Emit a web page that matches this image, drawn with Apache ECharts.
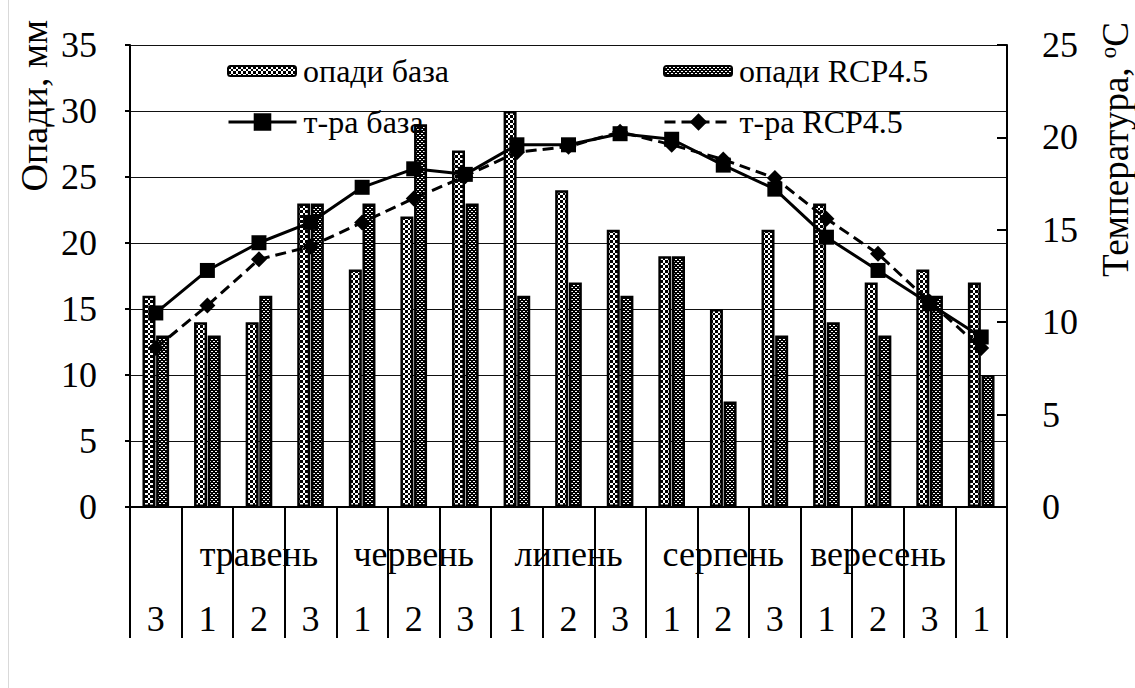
<!DOCTYPE html>
<html>
<head>
<meta charset="utf-8">
<script src="https://cdn.jsdelivr.net/npm/echarts@6/dist/echarts.min.js"></script>
<style>html,body{margin:0;padding:0;background:#fff;}#c{width:1135px;height:688px;}</style>
</head>
<body>
<div id="c"></div>
<script>
// ---- data ----
var decades = ['3','1','2','3','1','2','3','1','2','3','1','2','3','1','2','3','1'];
var monthLabels = ['', '', 'травень', '', '', 'червень', '', '', 'липень', '', '', 'серпень', '', '', 'вересень', '', ''];
var precipBase = [16,14,14,23,18,22,27,30,24,21,19,15,21,23,17,18,17];
var precipRcp  = [13,13,16,23,23,29,23,16,17,16,19,8,13,14,13,16,10];
var tempBase = [10.5,12.8,14.3,15.4,17.3,18.3,18.0,19.6,19.6,20.2,19.9,18.5,17.2,14.6,12.8,11.0,9.2];
var tempRcp  = [8.6,10.9,13.4,14.1,15.4,16.7,17.9,19.2,19.5,20.3,19.6,18.8,17.8,15.6,13.7,11.1,8.6];
var precipTicks = {min: 0, max: 35, interval: 5};
var tempTicks = {min: 0, max: 25, interval: 5};

function makePattern(rows) {
  var c = document.createElement('canvas');
  c.width = rows[0].length; c.height = rows.length;
  var ctx = c.getContext('2d');
  ctx.fillStyle = '#fff'; ctx.fillRect(0, 0, c.width, c.height);
  ctx.fillStyle = '#000';
  for (var y = 0; y < rows.length; y++)
    for (var x = 0; x < rows[y].length; x++)
      if (rows[y][x] === 'X') ctx.fillRect(x, y, 1, 1);
  return c;
}
var patBase = makePattern(['XXX..', 'XXX..', 'XXX..', '...XX', '...XX']);
var patRcp = makePattern(['XXXX', 'X..X', 'XXXX', '.XX.']);

var FONT = 'Liberation Serif';
var chart = echarts.init(document.getElementById('c'), null, {renderer: 'svg'});
function legendAt(name, left, top, w, h) {
  return {
    data: [name], left: left, top: top, padding: 0, itemWidth: w, itemHeight: h, itemGap: 0,
    selectedMode: false,
    lineStyle: {width: 3},
    textStyle: {fontFamily: FONT, fontSize: 32, color: '#000', lineHeight: 32, padding: [0, 0, 0, 2]}
  };
}
chart.setOption({
  animation: false,
  backgroundColor: '#fff',
  textStyle: {fontFamily: FONT},
  grid: {left: 130, right: 128, top: 45, bottom: 181, containLabel: false},
  legend: [
    legendAt('опади база', 227, 55, 68, 10),
    legendAt('опади RCP4.5', 663, 55, 68, 10),
    legendAt('т-ра база', 227, 106, 68, 22),
    legendAt('т-ра RCP4.5', 663, 106, 68, 22)
  ],
  xAxis: [{
    type: 'category', data: decades, position: 'bottom',
    axisLine: {show: true, lineStyle: {color: '#000', width: 2}},
    axisTick: {show: true, interval: 0, length: 131, lineStyle: {color: '#000', width: 2}},
    axisLabel: {interval: 0, margin: 112, verticalAlign: 'middle', fontFamily: FONT, fontSize: 36, color: '#000'},
    splitLine: {show: false}
  }, {
    type: 'category', data: monthLabels, position: 'bottom', offset: 0,
    axisLine: {show: false}, axisTick: {show: false},
    axisLabel: {interval: 0, margin: 47, verticalAlign: 'middle', fontFamily: FONT, fontSize: 36, color: '#000'},
    splitLine: {show: false}
  }],
  yAxis: [{
    type: 'value', min: precipTicks.min, max: precipTicks.max, interval: precipTicks.interval,
    axisLine: {show: true, lineStyle: {color: '#000', width: 2}},
    axisTick: {show: true, length: 5, lineStyle: {color: '#000', width: 2}},
    axisLabel: {margin: 33, fontFamily: FONT, fontSize: 36, color: '#000'},
    splitLine: {show: true, lineStyle: {color: '#111', width: 1}}
  }, {
    type: 'value', min: tempTicks.min, max: tempTicks.max, interval: tempTicks.interval, position: 'right',
    axisLine: {show: true, lineStyle: {color: '#000', width: 2}},
    axisTick: {show: true, inside: true, length: 10, lineStyle: {color: '#000', width: 2}},
    axisLabel: {margin: 35, fontFamily: FONT, fontSize: 36, color: '#000'},
    splitLine: {show: false}
  }],
  series: [{
    name: 'опади база', type: 'bar', data: precipBase, xAxisIndex: 0, yAxisIndex: 0,
    barWidth: 13, barGap: '5%',
    itemStyle: {color: {image: patBase, repeat: 'repeat'}, borderColor: '#000', borderWidth: 2.5}
  }, {
    name: 'опади RCP4.5', type: 'bar', data: precipRcp, xAxisIndex: 0, yAxisIndex: 0,
    barWidth: 13, barGap: '5%',
    itemStyle: {color: {image: patRcp, repeat: 'repeat'}, borderColor: '#000', borderWidth: 2.5}
  }, {
    name: 'т-ра база', type: 'line', data: tempBase, xAxisIndex: 0, yAxisIndex: 1,
    symbol: 'rect', symbolSize: 15,
    lineStyle: {color: '#000', width: 3}, itemStyle: {color: '#000'}
  }, {
    name: 'т-ра RCP4.5', type: 'line', data: tempRcp, xAxisIndex: 0, yAxisIndex: 1,
    symbol: 'diamond', symbolSize: 16,
    lineStyle: {color: '#000', width: 3, type: [11, 6]}, itemStyle: {color: '#000'}
  }],
  graphic: [{
    type: 'line', shape: {x1: 8.5, y1: 0, x2: 8.5, y2: 688}, style: {stroke: '#d9d9d9', lineWidth: 1}, silent: true
  }, {
    type: 'text', x: 34, y: 20, rotation: Math.PI / 2,
    style: {text: 'Опади, мм', fontFamily: FONT, fontSize: 38, fill: '#000', align: 'right', verticalAlign: 'middle'}
  }, {
    type: 'text', x: 1115, y: 22, rotation: Math.PI / 2,
    style: {
      text: 'Температура, {sup|o}C', fontFamily: FONT, fontSize: 37, fill: '#000', align: 'right', verticalAlign: 'middle',
      rich: {sup: {fontFamily: FONT, fontSize: 23, verticalAlign: 'top', fill: '#000'}}
    }
  }]
});
</script>
</body>
</html>
